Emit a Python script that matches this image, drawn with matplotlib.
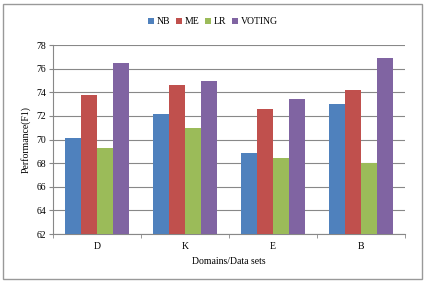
import numpy as np
from matplotlib import pyplot as plt
from matplotlib.patches import Rectangle

categories = ["D", "K", "E", "B"]
nb = [70.1, 72.2, 68.85, 73.0]
me = [73.8, 74.6, 72.6, 74.2]
lr = [69.3, 71.0, 68.4, 68.0]
voting = [76.5, 75.0, 73.4, 76.9]
series_names = ["NB", "ME", "LR", "VOTING"]
colors = ["#4F81BD", "#C0504D", "#9BBB59", "#8064A2"]

plt.rcParams['font.family'] = ['Liberation Serif', 'DejaVu Serif']

fig = plt.figure(figsize=(4.26, 2.82), dpi=100)
ax = fig.add_axes([0.124, 0.170, 0.827, 0.670])

x = np.arange(len(categories))
w = 0.182
for i, (vals, name) in enumerate(zip([nb, me, lr, voting], series_names)):
    ax.bar(x + (i - 1.5) * w, np.array(vals) - 62, bottom=62, width=w,
           color=colors[i], label=name, zorder=3)

ax.set_ylim(62, 78)
ax.set_xlim(-0.5, len(categories) - 0.5)
ax.set_yticks(np.arange(62, 79, 2))
ax.tick_params(axis='y', labelsize=7, length=3, color='#888888', pad=2)
ax.set_xticks(x)
ax.set_xticklabels(categories)
ax.set_xticks(np.arange(-0.5, len(categories), 1), minor=True)
ax.tick_params(axis='x', which='major', length=0, labelsize=7, pad=6)
ax.tick_params(axis='x', which='minor', length=3, color='#888888')
ax.grid(axis='y', color='#888888', linewidth=0.8, zorder=0)
for s in ['top', 'right']:
    ax.spines[s].set_visible(False)
for s in ['left', 'bottom']:
    ax.spines[s].set_color('#888888')
    ax.spines[s].set_linewidth(0.8)

ax.set_xlabel("Domains/Data sets", fontsize=7, labelpad=4)
ax.set_ylabel("Performance(F1)", fontsize=7, labelpad=4)

fig.legend(loc='upper center', bbox_to_anchor=(0.5, 0.97), ncol=4, frameon=False,
           fontsize=7, handlelength=0.6, handleheight=0.6, handletextpad=0.3,
           columnspacing=0.6)

fig.patches.append(Rectangle((0.008, 0.012), 0.982, 0.975, transform=fig.transFigure,
                             fill=False, edgecolor='#999999', linewidth=1))

fig.savefig("out.png", dpi=100)
